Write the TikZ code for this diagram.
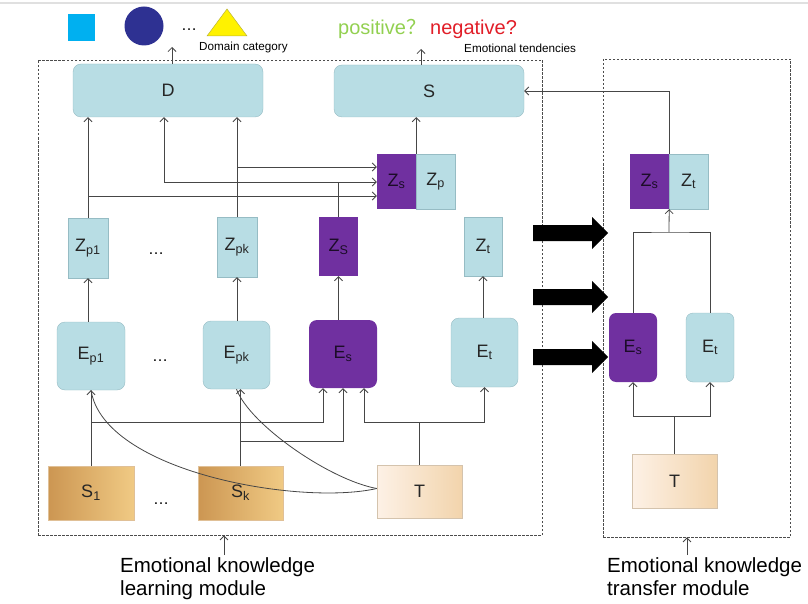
\documentclass[tikz,border=0pt]{standalone}
\usepackage{fontspec}
\setmainfont{Liberation Sans}
\newfontfamily\cjk{Noto Sans CJK SC}
\usetikzlibrary{arrows.meta}
\definecolor{boxblue}{RGB}{184,221,228}
\definecolor{boxedge}{RGB}{150,188,196}
\definecolor{violet1}{RGB}{112,48,160}
\definecolor{wirec}{RGB}{70,70,70}
\definecolor{srcdark}{RGB}{204,150,82}
\definecolor{srclight}{RGB}{240,202,132}
\definecolor{tgtlight}{RGB}{253,241,230}
\definecolor{tgtdark}{RGB}{242,212,172}
\definecolor{posgreen}{RGB}{146,208,80}
\definecolor{negred}{RGB}{225,30,40}
\definecolor{skyblue}{RGB}{0,176,240}
\definecolor{navy1}{RGB}{46,49,146}
\newcommand{\cellfont}{\fontsize{18}{20}\selectfont}
\newcommand{\notefont}{\fontsize{11.7}{13}\selectfont}
\newcommand{\headfont}{\fontsize{20}{22}\selectfont}
\newcommand{\modfont}{\fontsize{20.5}{23}\selectfont}
\begin{document}
\begin{tikzpicture}[x=1pt,y=-1pt,
  >={Straight Barb[length=4pt,width=8pt]},
  cell/.style={inner sep=0pt, font=\cellfont, text=black!85},
  bluecell/.style={cell, draw=boxedge, fill=boxblue},
  violetcell/.style={cell, fill=violet1, text=violet1!25!black},
  srccell/.style={cell, draw=srcdark!60, left color=srcdark, right color=srclight, minimum width=86pt, minimum height=54pt},
  tgtcell/.style={cell, draw=tgtdark!80!black!70, left color=tgtlight, right color=tgtdark, minimum width=85pt, minimum height=53pt},
  wire/.style={draw=wirec, line width=0.8pt},
  module/.style={draw=black!70, line width=0.8pt, dash pattern=on 2.5pt off 1.5pt},
  dots/.style={inner sep=0pt, font=\fontsize{16}{18}\selectfont}]
\useasboundingbox (0,0) rectangle (808,604);
\draw[black!12, line width=2pt] (0,3) -- (808,3);

\fill[skyblue] (68,14) rectangle (95,41);
\fill[navy1] (144,26) circle (19.5pt);
\node[dots] (topdots) at (189,30) {\ldots};
\filldraw[fill=yellow, draw=yellow!70!black, line width=0.5pt] (207,36) -- (227,9) -- (247,36) -- cycle;
\node[anchor=base west, inner sep=0pt, font=\notefont] (dom) at (199,51) {Domain category};
\node[anchor=base west, inner sep=0pt, font=\headfont, text=posgreen] (pos) at (338,35) {positive{\cjk ？}};
\node[anchor=base west, inner sep=0pt, font=\headfont, text=negred] (neg) at (430,35) {negative?};
\node[anchor=base west, inner sep=0pt, font=\notefont] (tend) at (464,52.5) {Emotional tendencies};

\node[module, minimum width=504pt, minimum height=475pt] (learn) at (290,297.5) {};
\node[module, minimum width=187pt, minimum height=478pt] (transfer) at (696.5,298) {};

\node[bluecell, rounded corners=8pt, minimum width=190pt, minimum height=53pt] (D) at (168,90.5) {D};
\node[bluecell, rounded corners=8pt, minimum width=190pt, minimum height=52pt] (S) at (429,91) {S};
\node[violetcell, minimum width=39pt, minimum height=55pt] (Zs) at (396.5,181.5) {Z\textsubscript{s}};
\node[bluecell, minimum width=39pt, minimum height=55pt] (Zp) at (435.5,181.5) {Z\textsubscript{p}};

\node[bluecell, minimum width=40pt, minimum height=60pt] (Zp1) at (88,248) {Z\textsubscript{p1}};
\node[dots] (zdots) at (156,254) {\ldots};
\node[bluecell, minimum width=40pt, minimum height=60pt] (Zpk) at (237,247) {Z\textsubscript{pk}};
\node[violetcell, minimum width=39pt, minimum height=59pt] (ZS) at (338.5,246.5) {Z\textsubscript{S}};
\node[bluecell, minimum width=38pt, minimum height=59pt] (Zt) at (483,246.5) {Z\textsubscript{t}};

\node[bluecell, rounded corners=8pt, minimum width=68pt, minimum height=68pt] (Ep1) at (91,356) {E\textsubscript{p1}};
\node[dots] (edots) at (160,361) {\ldots};
\node[bluecell, rounded corners=8pt, minimum width=67pt, minimum height=68pt] (Epk) at (236.5,355) {E\textsubscript{pk}};
\node[violetcell, rounded corners=8pt, minimum width=68pt, minimum height=68pt] (Es) at (343,354) {E\textsubscript{s}};
\node[bluecell, rounded corners=8pt, minimum width=67pt, minimum height=69pt] (Et) at (484.5,352.5) {E\textsubscript{t}};

\node[srccell] (S1) at (91,493) {S\textsubscript{1}};
\node[dots] (sdots) at (161,504) {\ldots};
\node[srccell, minimum width=85pt] (Sk) at (240.5,493) {S\textsubscript{k}};
\node[tgtcell] (T) at (419.5,491.5) {T};

\node[violetcell, minimum width=39pt, minimum height=55pt] (Zs2) at (649.5,181.5) {Z\textsubscript{s}};
\node[bluecell, minimum width=39pt, minimum height=55pt] (Zt2) at (688.5,181.5) {Z\textsubscript{t}};
\node[violetcell, rounded corners=7pt, minimum width=48pt, minimum height=69pt] (Es2) at (633,347.5) {E\textsubscript{s}};
\node[bluecell, rounded corners=7pt, minimum width=48pt, minimum height=69pt] (Et2) at (710,347.5) {E\textsubscript{t}};
\node[tgtcell, minimum height=54pt] (T2) at (674.5,481) {T};

\node[anchor=north west, inner sep=0pt, align=left, font=\modfont] (learnlbl) at (120,557) {Emotional knowledge\\learning module};
\node[anchor=north west, inner sep=0pt, align=left, font=\modfont] (translbl) at (607,557) {Emotional knowledge\\transfer module};

\coordinate (dtip) at (172,47);
\draw[wire,->] (dtip |- D.north) -- (dtip);
\coordinate (stip) at (421,49);
\draw[wire,->] (stip |- S.north) -- (stip);

\draw[wire,->] (Zp1.north) -- (Zp1.north |- D.south);
\draw[wire,->] (Zpk.north) -- (Zpk.north |- D.south);
\draw[wire,->] (Zp1.north |- 0,196) -- (Zs.west |- 0,196);
\draw[wire,->] (Zpk.north |- 0,167) -- (Zs.west |- 0,167);
\coordinate (dz) at (164,182);
\draw[wire,->] (ZS.north) |- (dz) -- (dz |- D.south);
\draw[wire,->] (ZS.north |- dz) -- (Zs.west |- dz);
\draw[wire,->] (Zs.north east) -- (Zs.north east |- S.south);

\draw[wire,->] (Zp1.south |- Ep1.north) -- (Zp1.south);
\draw[wire,->] (Zpk.south |- Epk.north) -- (Zpk.south);
\draw[wire,->] (ZS.south |- Es.north) -- (ZS.south);
\draw[wire,->] (Zt.south |- Et.north) -- (Zt.south);

\draw[wire,->] (S1.north) -- (S1.north |- Ep1.south);
\draw[wire,->] (S1.north |- 0,422) -| ([xshift=-20pt]Es.south);
\draw[wire,->] (Sk.north) -- (Sk.north |- Epk.south);
\draw[wire,->] (Sk.north |- 0,441) -| (Es.south);
\draw[wire] (T.north) -- (T.north |- 0,422);
\draw[wire,->] (T.north |- 0,422) -| ([xshift=21pt]Es.south);
\draw[wire,->] (T.north |- 0,422) -| (Et.south);
\draw[wire] ([yshift=3pt]T.west) .. controls (300,506) and (104,472) .. (Ep1.south);
\draw[wire] ([yshift=3pt]T.west) .. controls (330,480) and (250,425) .. (Epk.south);

\fill (533,225) -- (592,225) -- (592,217) -- (608,233) -- (592,249) -- (592,241) -- (533,241) -- cycle;
\fill (533,289) -- (592,289) -- (592,281) -- (608,297) -- (592,313) -- (592,305) -- (533,305) -- cycle;
\fill (533,349) -- (592,349) -- (592,341) -- (608,357) -- (592,373) -- (592,365) -- (533,365) -- cycle;

\draw[wire,->] (Zs2.north east) |- (S.east);
\coordinate (mrg) at (669,232);
\draw[wire] (Es2.north) |- (mrg) -| (Et2.north);
\draw[wire,->] (mrg) -- (Zs2.south east);
\coordinate (spl) at (674.5,416);
\draw[wire] (T2.north) -- (spl);
\draw[wire,->] (spl) -| (Es2.south);
\draw[wire,->] (spl) -| (Et2.south);

\coordinate (lnote) at (224,555);
\draw[wire,->] (lnote) -- (lnote |- learn.south);
\coordinate (rnote) at (687,555);
\draw[wire,->] (rnote) -- (rnote |- transfer.south);
\end{tikzpicture}
\end{document}
